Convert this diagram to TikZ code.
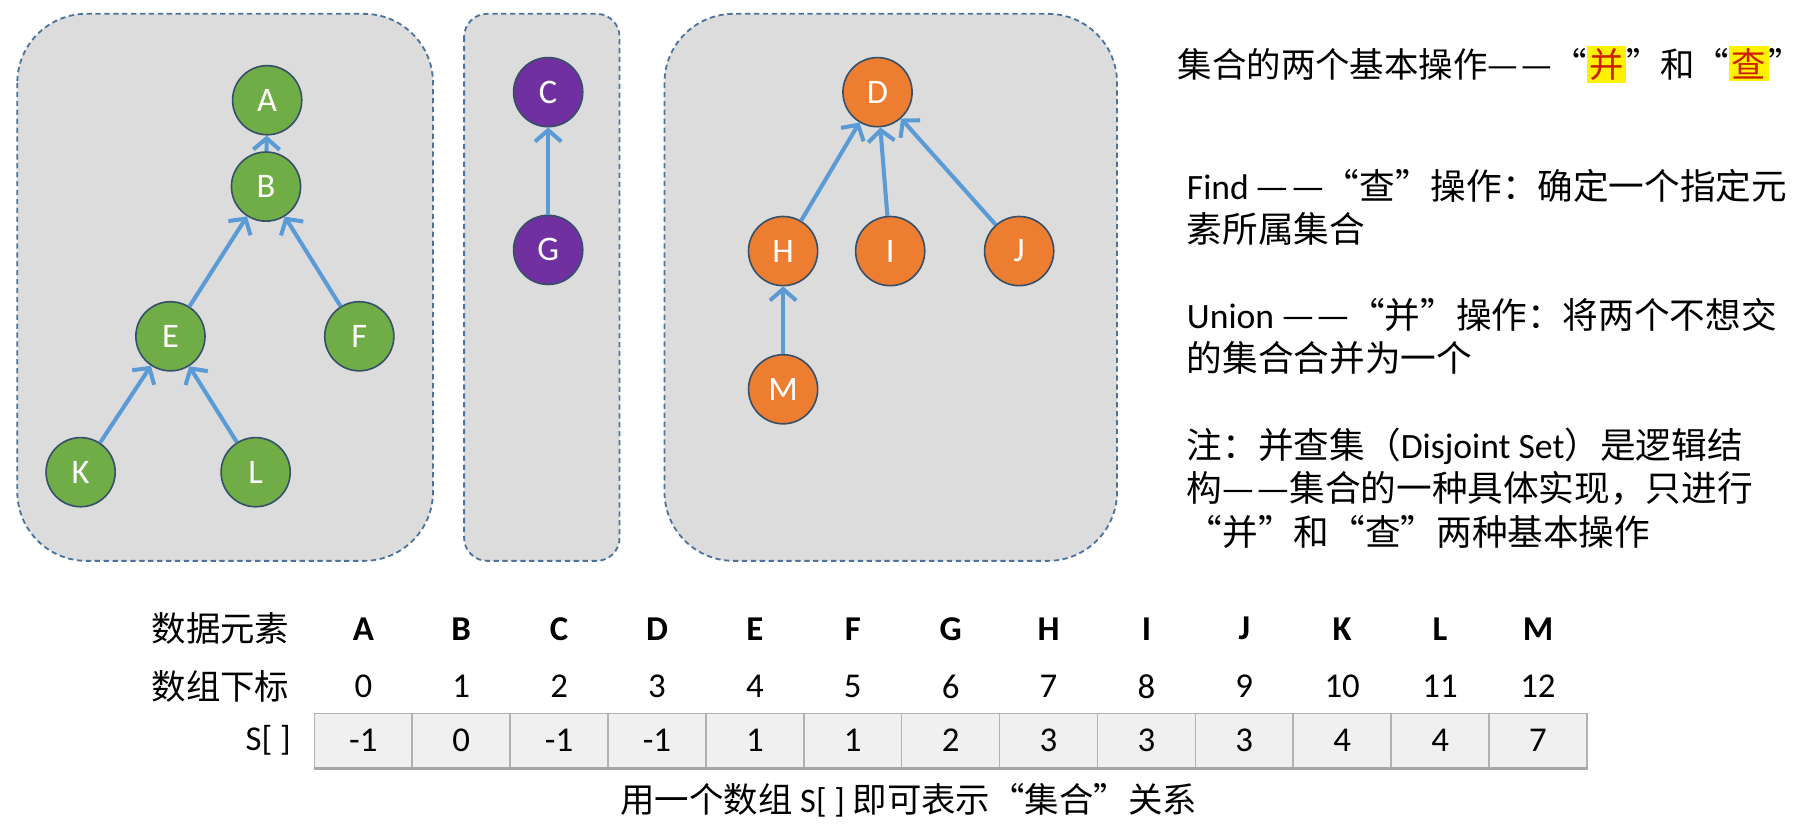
\documentclass[tikz,border=0pt]{standalone}
\usepackage{fontspec}
\setmainfont{Carlito}
\newfontfamily\lat{Carlito}
\newfontfamily\cjk{Noto Sans CJK SC}
\usepackage{xcolor}
\usetikzlibrary{shapes.geometric, arrows.meta, positioning}
\definecolor{panelfill}{RGB}{220,220,220}
\definecolor{paneledge}{RGB}{75,115,155}
\definecolor{linkblue}{RGB}{91,155,213}
\definecolor{treegreen}{RGB}{112,173,71}
\definecolor{treepurple}{RGB}{112,48,160}
\definecolor{treeorange}{RGB}{237,125,49}
\definecolor{nodeedge}{RGB}{55,80,105}
\definecolor{markred}{RGB}{205,30,0}
\newcommand{\hlmark}[1]{{\setlength{\fboxsep}{0.6pt}\colorbox{yellow}{\textcolor{markred}{#1}}}}
\newcommand{\ddash}{—\kern0.8pt—}
\tikzset{
        panel/.style={draw=paneledge, fill=panelfill, dash pattern=on 1.3pt off 0.9pt, line width=0.45pt, rounded corners=0.6cm},
        elem/.style={ellipse, draw=nodeedge, line width=0.4pt, minimum width=0.6cm, minimum height=0.6cm, inner sep=0pt, text=white, font=\lat\fontsize{8.5}{10}\selectfont},
        greenelem/.style={elem, fill=treegreen},
        purpleelem/.style={elem, fill=treepurple},
        orangeelem/.style={elem, fill=treeorange},
        link/.style={-{Straight Barb[length=2.8pt,width=6.5pt]}, draw=linkblue, line width=1pt},
        note/.style={anchor=north west, align=left, inner sep=0pt, font=\cjk\fontsize{8.8}{10.7}\selectfont},
        cell/.style={rectangle, draw=gray!60, fill=gray!12, line width=0.4pt, minimum width=0.85cm, minimum height=0.47cm, inner sep=0pt, font=\lat\fontsize{8.6}{10}\selectfont},
        coltext/.style={inner sep=0pt, font=\lat\fontsize{8.6}{10}\selectfont},
        rowlabel/.style={anchor=east, inner sep=0pt, font=\cjk\fontsize{8.5}{10}\selectfont},
    }
\begin{document}
\begin{tikzpicture}[x=0.01cm, y=-0.01cm]
        \fill[white] (0,0) rectangle (1570,717);
        \useasboundingbox (0,0) rectangle (1570,717);

        % Three sets
        \draw[panel] (15,12) rectangle (376,487);
        \draw[panel, rounded corners=0.2cm] (403,12) rectangle (538,487);
        \draw[panel] (577,12) rectangle (970,487);

        % First tree
        \node[greenelem] (A) at (232,87) {A};
        \node[greenelem] (B) at (231,162) {B};
        \node[greenelem] (E) at (148,292) {E};
        \node[greenelem] (F) at (312,292) {F};
        \node[greenelem] (K) at (70,410) {K};
        \node[greenelem] (L) at (222,410) {L};

        % Second tree
        \node[purpleelem] (C) at (476,80) {C};
        \node[purpleelem] (G) at (476,217) {G};

        % Third tree
        \node[orangeelem] (D) at (762,80) {D};
        \node[orangeelem] (H) at (680,218) {H};
        \node[orangeelem] (I) at (773,218) {I};
        \node[orangeelem] (J) at (885,218) {J};
        \node[orangeelem] (M) at (680,338) {M};

        \draw[link] (B) -- (A);
        \draw[link] (E) -- (B);
        \draw[link] (F) -- (B);
        \draw[link] (K) -- (E);
        \draw[link] (L) -- (E);
        \draw[link] (G) -- (C);
        \draw[link] (H) -- (D);
        \draw[link] (I) -- (D);
        \draw[link] (J) -- (D);
        \draw[link] (M) -- (H);

        % Notes
        \node[note, font=\cjk\fontsize{8.5}{10.7}\selectfont] (title) at (1022,39) {集合的两个基本操作\ddash“\hlmark{并}”和“\hlmark{查}”};
        \node[note] (findnote) at (1030,146) {{\lat Find} \ddash“查”操作：确定一个指定元\\素所属集合};
        \node[note] (unionnote) at (1030,258) {{\lat Union} \ddash“并”操作：将两个不想交\\的集合合并为一个};
        \node[note] (djsnote) at (1030,371) {注：并查集（{\lat Disjoint Set}）是逻辑结\\构\ddash 集合的一种具体实现，只进行\\“并”和“查”两种基本操作};

        % Array
        \foreach \nm/\val [count=\i from 0] in {A/-1,B/0,C/-1,D/-1,E/1,F/1,G/2,H/3,I/3,J/3,K/4,L/4,M/7} {
            \node[cell] (cell-\nm) at ({315.5+85*\i},643) {\val};
            \node[coltext] (elem-\nm) at ({315.5+85*\i},546) {\textbf{\nm}};
            \node[coltext] (idx-\nm) at ({315.5+85*\i},596) {\i};
        }
        \draw[gray!70, line width=0.9pt] (cell-A.south west) -- (cell-M.south east);

        \node[rowlabel] (elemlabel) at (252,546) {数据元素};
        \node[rowlabel] (idxlabel) at (252,596) {数组下标};
        \node[rowlabel, font=\lat\fontsize{8.6}{10}\selectfont, left=0.19cm of cell-A] (slabel) {S[ ]};

        \node[inner sep=0pt, font=\cjk\fontsize{8.5}{10}\selectfont] (caption) at (789,695) {用一个数组 {\lat S[ ]} 即可表示“集合”关系};
    \end{tikzpicture}
\end{document}
